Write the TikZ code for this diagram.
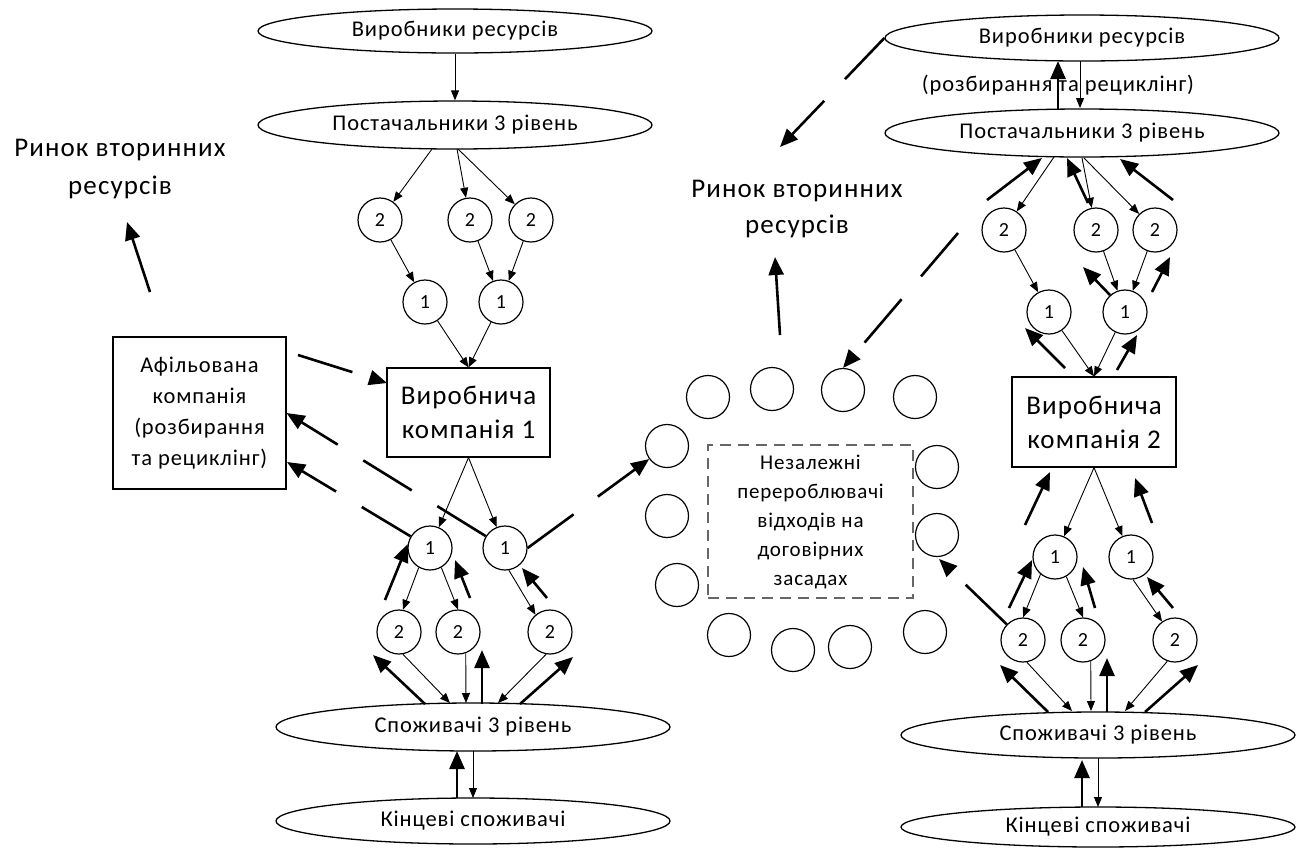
\documentclass[tikz,border=0pt]{standalone}
\usepackage{fontspec}
\setmainfont{Carlito}
\newfontfamily\lab[LetterSpace=4]{Carlito}
\usetikzlibrary{arrows.meta,shapes.geometric}

\begin{document}
\begin{tikzpicture}[x=1pt,y=-1pt,
  oval/.style={ellipse,draw,line width=1.3pt,inner sep=0pt,font=\lab\fontsize{22.5}{26}\selectfont},
  num/.style={circle,draw,line width=1.2pt,minimum size=44pt,inner sep=0pt,font=\fontsize{20}{22}\selectfont},
  ring/.style={circle,draw,line width=1.2pt,minimum size=43pt,inner sep=0pt},
  firm/.style={rectangle,draw,line width=1.2pt,inner sep=0pt,align=center},
  fine/.style={-{Triangle[length=10pt,width=8pt]},line width=0.9pt},
  heavy/.style={-{Triangle[length=18pt,width=15pt]},line width=2.6pt},
  flow/.style={heavy,dash pattern=on 57pt off 30pt},
  caption/.style={align=center,inner sep=0pt},
]
\useasboundingbox (0,0) rectangle (1300,847);

% ---------------- left supply chain ----------------
\node[oval,minimum width=394pt,minimum height=44pt] (VR1) at (455,31) {Виробники ресурсів};
\node[oval,minimum width=394pt,minimum height=48pt] (PS1) at (455,125) {Постачальники 3 рівень};
\node[num] (c2a) at (380,220) {2};
\node[num] (c2b) at (470,220) {2};
\node[num] (c2c) at (531,220) {2};
\node[num] (c1a) at (425,302) {1};
\node[num] (c1b) at (501,302) {1};
\node[firm,minimum width=163pt,minimum height=89pt,font=\lab\fontsize{27}{34}\selectfont] (comp1) at (468.5,412.5) {Виробнича\\компанія 1};
\node[firm,minimum width=173pt,minimum height=152pt,font=\lab\fontsize{22.5}{31}\selectfont] (afil) at (199.5,413) {Афільована\\компанія\\(розбирання\\та рециклінг)};
\node[caption,font=\lab\fontsize{27}{38}\selectfont] (mkt1) at (120,169) {Ринок вторинних\\ресурсів};

\node[num] (ca1) at (430,548) {1};
\node[num] (cb1) at (505,548) {1};
\node[num] (d2a) at (399,632) {2};
\node[num] (d2b) at (458,632) {2};
\node[num] (d2c) at (550,632) {2};
\node[oval,minimum width=394pt,minimum height=48pt] (SP1) at (473,727) {Споживачі 3 рівень};
\node[oval,minimum width=394pt,minimum height=46pt] (KS1) at (473,821) {Кінцеві споживачі};

% ---------------- independent recyclers ----------------
\node[caption,font=\lab\fontsize{27}{36}\selectfont] (mkt2) at (797,209) {Ринок вторинних\\ресурсів};
\node[rectangle,draw=black!60,line width=1.4pt,dash pattern=on 11pt off 7pt,minimum width=205pt,minimum height=153pt,inner sep=0pt,align=center,font=\lab\fontsize{21}{29}\selectfont] (indep) at (810.5,521.5) {Незалежні\\перероблювачі\\відходів на\\договірних\\засадах};
\node[ring] (r1) at (667,446) {};
\node[ring] (r2) at (667,516) {};
\node[ring] (r3) at (677,585) {};
\node[ring] (r4) at (708,397) {};
\node[ring] (r5) at (772,389) {};
\node[ring] (r6) at (843,390) {};
\node[ring] (r7) at (915,397) {};
\node[ring] (r8) at (937,467) {};
\node[ring] (r9) at (937,535) {};
\node[ring] (r10) at (729,635) {};
\node[ring] (r11) at (793,650) {};
\node[ring] (r12) at (850,647) {};
\node[ring] (r13) at (925,632) {};

% ---------------- right supply chain ----------------
\node[oval,minimum width=394pt,minimum height=46pt] (VR2) at (1082,38) {Виробники ресурсів};
\node[caption,font=\lab\fontsize{22.5}{26}\selectfont] (rec2) at (1058,85) {(розбирання та рециклінг)};
\node[oval,minimum width=394pt,minimum height=48pt] (PS2) at (1082,133) {Постачальники 3 рівень};
\node[num] (e2a) at (1004,230) {2};
\node[num] (e2b) at (1096,230) {2};
\node[num] (e2c) at (1155,230) {2};
\node[num] (e1a) at (1049,312) {1};
\node[num] (e1b) at (1125,312) {1};
\node[firm,minimum width=164pt,minimum height=90pt,font=\lab\fontsize{27}{34}\selectfont] (comp2) at (1094,422) {Виробнича\\компанія 2};
\node[num] (f1a) at (1055,557) {1};
\node[num] (f1b) at (1131,557) {1};
\node[num] (g2a) at (1023,640) {2};
\node[num] (g2b) at (1083,640) {2};
\node[num] (g2c) at (1175,640) {2};
\node[oval,minimum width=394pt,minimum height=46pt] (SP2) at (1098,735) {Споживачі 3 рівень};
\node[oval,minimum width=394pt,minimum height=40pt] (KS2) at (1098,827) {Кінцеві споживачі};

% ---------------- anchor points of free arrow ends ----------------
\coordinate (m1s) at (150,292);  \coordinate (m1e) at (127,222);
\coordinate (m2s) at (780,335);  \coordinate (m2e) at (775,257);
\coordinate (afs) at (298,355);  \coordinate (c1w) at (387,383);
\coordinate (afl) at (287,462);
\coordinate (vrt) at (780,147);
\coordinate (dls) at (958,233);
\coordinate (r9t) at (939,559);

% left: downstream flow
\draw[fine] (VR1.south) -- (PS1.north);
\draw[fine] (432,149) -- (c2a);
\draw[fine] (457,149) -- (c2b);
\draw[fine] (458,149) -- (c2c);
\draw[fine] (c2a) -- (c1a);
\draw[fine] (c2b) -- (c1b);
\draw[fine] (c2c) -- (c1b);
\draw[fine] (c1a) -- (comp1.north);
\draw[fine] (c1b) -- (comp1.north);
\draw[fine] (comp1.south) -- (ca1);
\draw[fine] (comp1.south) -- (cb1);
\draw[fine] (ca1.-120) -- (d2a.80);
\draw[fine] (ca1.-60) -- (d2b.north);
\draw[fine] (cb1.-80) -- (d2c.130);
\draw[fine] (d2a.-80) -- (450,703);
\draw[fine] (d2b.-70) -- (466,703);
\draw[fine] (d2c.-100) -- (498,703);
\draw[fine] (473,751) -- (473,798);

% left: return flow
\draw[heavy] (385,600) -- (ca1.170);
\draw[heavy] (470,598) -- (455,560);
\draw[heavy] (547,598) -- (522,568);
\draw[heavy] (425,704) -- (373,655);
\draw[heavy] (482,704) -- (482,650);
\draw[heavy] (520,704) -- (573,657);
\draw[heavy] (457,798) -- (457,751);
\draw[heavy] (m1s) -- (m1e);
\draw[flow] (afs) -- (c1w);
\draw[flow] (cb1) -- (afil.east);
\draw[flow] (ca1) -- (afl);
\draw[flow] (cb1.east) -- (r1);

% middle
\draw[heavy] (m2s) -- (m2e);
\draw[flow] (VR2.west) -- (vrt);
\draw[flow] (dls) -- (r6.north);
\draw[flow] (g2a) -- (r9t);

% right: downstream flow
\draw[fine] (1080,61) -- (1080,108);
\draw[fine] (1054,157) -- (e2a);
\draw[fine] (1082,158) -- (e2b);
\draw[fine] (1084,158) -- (e2c);
\draw[fine] (e2a) -- (e1a);
\draw[fine] (e2b) -- (e1b);
\draw[fine] (e2c) -- (e1b);
\draw[fine] (e1a) -- (comp2.north);
\draw[fine] (e1b) -- (comp2.north);
\draw[fine] (comp2.south) -- (f1a);
\draw[fine] (comp2.south) -- (f1b);
\draw[fine] (f1a.-130) -- (g2a.north);
\draw[fine] (f1a.-60) -- (g2b.north);
\draw[fine] (f1b.-85) -- (g2c.125);
\draw[fine] (g2a.-80) -- (1072,711);
\draw[fine] (g2b.-70) -- (1091,711);
\draw[fine] (g2c.-110) -- (1125,711);
\draw[fine] (1098,758) -- (1098,807);

% right: return flow
\draw[heavy] (1058,109) -- (1058,61);
\draw[heavy] (987,200) -- (1042,158);
\draw[heavy] (1088,203) -- (1067,158);
\draw[heavy] (1173,200) -- (1120,159);
\draw[heavy] (1110,295) -- (1083,267);
\draw[heavy] (1152,292) -- (1170,257);
\draw[heavy] (1065,368) -- (1025,328);
\draw[heavy] (1117,370) -- (1137,335);
\draw[heavy] (1025,525) -- (1050,472);
\draw[heavy] (1152,523) -- (1135,478);
\draw[heavy] (1009,608) -- (1032,560);
\draw[heavy] (1095,608) -- (1083,567);
\draw[heavy] (1173,608) -- (1147,577);
\draw[heavy] (1048,712) -- (1000,665);
\draw[heavy] (1107,712) -- (1107,658);
\draw[heavy] (1145,712) -- (1198,665);
\draw[heavy] (1082,807) -- (1082,760);
\end{tikzpicture}
\end{document}
